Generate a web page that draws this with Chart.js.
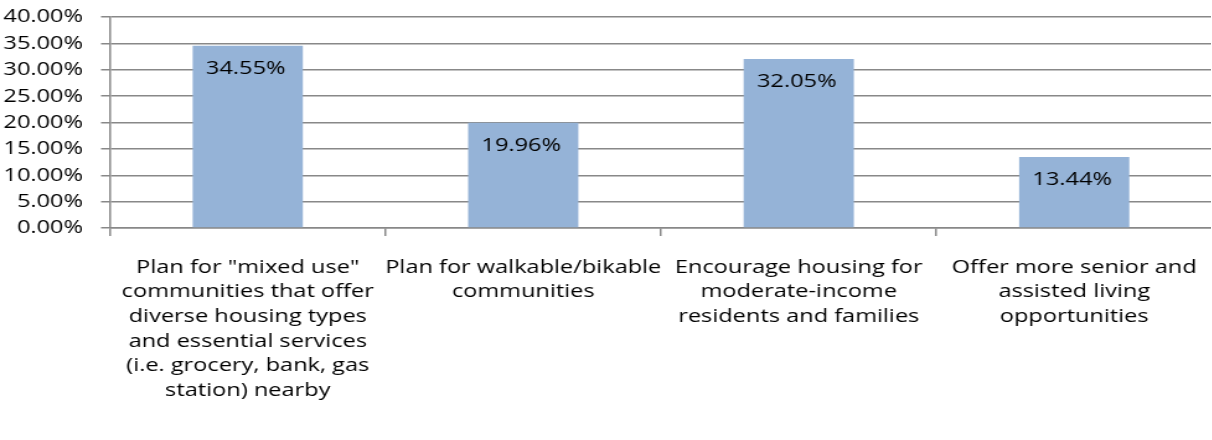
<!DOCTYPE html>
<html>
<head>
<meta charset="utf-8">
<script src="https://cdn.jsdelivr.net/npm/chart.js@4.4.1/dist/chart.umd.min.js"></script>
<style>
  html, body { margin: 0; padding: 0; background: #fff; }
  #outer { width: 1212px; height: 440px; overflow: hidden; position: relative; }
  #inner { position: absolute; left: 0; top: 0; height: 440px; transform-origin: 0 0; }
</style>
</head>
<body>
<div id="outer"><div id="inner"><canvas id="c"></canvas></div></div>
<script>
const categories = [
  ['Plan for "mixed use"', 'communities that offer', 'diverse housing types', 'and essential services', '(i.e. grocery, bank, gas', 'station) nearby'],
  ['Plan for walkable/bikable', 'communities'],
  ['Encourage housing for', 'moderate-income', 'residents and families'],
  ['Offer more senior and', 'assisted living', 'opportunities']
];
const values = [34.55, 19.96, 32.05, 13.44];
const yTicks = [0, 5, 10, 15, 20, 25, 30, 35, 40];

const S = 1.24;               // horizontal stretch of the reference rendering
const W = 1212 / S;
const inner = document.getElementById('inner');
inner.style.width = W + 'px';
inner.style.transform = 'scaleX(' + S + ')';

const FONT = { family: '"Open Sans", sans-serif', size: 19 };
const GRID = '#888888';

const barLabels = {
  id: 'barLabels',
  afterDatasetsDraw(chart) {
    const ctx = chart.ctx;
    const meta = chart.getDatasetMeta(0);
    ctx.save();
    ctx.font = FONT.size + 'px ' + FONT.family;
    ctx.fillStyle = '#000';
    ctx.textAlign = 'center';
    ctx.textBaseline = 'alphabetic';
    meta.data.forEach((el, i) => {
      ctx.fillText(values[i].toFixed(2) + '%', el.x - 2 / S, el.y + 28);
    });
    ctx.restore();
  }
};

new Chart(document.getElementById('c'), {
  type: 'bar',
  data: {
    labels: categories,
    datasets: [{
      data: values,
      backgroundColor: '#95B3D7',
      borderWidth: 0,
      categoryPercentage: 1,
      barPercentage: 0.4
    }]
  },
  options: {
    responsive: true,
    maintainAspectRatio: false,
    animation: false,
    layout: { padding: { top: 17, right: 0, left: 0, bottom: 0 } },
    plugins: { legend: { display: false }, tooltip: { enabled: false } },
    scales: {
      x: {
        offset: true,
        grid: { offset: true, display: true, drawOnChartArea: false, drawTicks: true, tickLength: 8, color: GRID, lineWidth: 1.5 },
        border: { display: true, color: GRID, width: 1.5 },
        ticks: { color: '#000', font: Object.assign({ lineHeight: 24.6 / 19 }, FONT), padding: 19, maxRotation: 0, autoSkip: false },
        afterFit(scale) {
          scale.height = 212;
          scale.paddingLeft = 0;
          scale.paddingRight = 0;
        }
      },
      y: {
        min: 0, max: 40,
        afterBuildTicks(scale) { scale.ticks = yTicks.map(v => ({ value: v })); },
        grid: { color: GRID, lineWidth: 1.5, tickLength: 9 / S, drawTicks: true },
        border: { display: true, color: GRID, width: 1.5 },
        ticks: { color: '#000', font: FONT, padding: 18 / S, autoSkip: false, callback: v => v.toFixed(2) + '%' },
        afterFit(scale) {
          scale.width = 110 / S;
          scale.paddingTop = 0;
          scale.paddingBottom = 0;
        }
      }
    }
  },
  plugins: [barLabels]
});
</script>
</body>
</html>
